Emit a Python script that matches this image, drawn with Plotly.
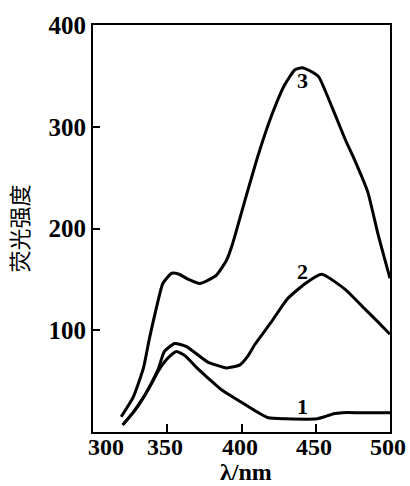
import plotly.graph_objects as go

# Fluorescence emission spectra (wavelength in nm, intensity in a.u.)
wl_1 = [320, 327, 334, 340, 344, 350, 356, 362, 370, 376, 387, 398, 409, 418, 430, 451, 456, 462, 468, 480, 500]
int_1 = [7, 19, 34, 49, 60, 72, 79, 75, 63, 55, 41, 31, 21, 14, 13, 13, 15, 18, 19, 19, 19]

wl_2 = [320, 327, 334, 340, 344, 348, 355, 363, 377, 390, 399, 404, 409, 420, 431, 443, 454, 470, 483, 492, 500]
int_2 = [7, 19, 34, 50, 62, 79, 87, 84, 69, 63, 66, 74, 86, 108, 131, 146, 155, 140, 121, 108, 96]

wl_3 = [319, 327, 334, 338, 343, 347, 353, 358, 363, 372, 383, 390, 394, 402, 411, 420, 429, 436, 441,
        446, 452, 461, 470, 476, 485, 492, 500]
int_3 = [15, 34, 63, 92, 124, 146, 156, 155, 151, 146, 154, 169, 185, 226, 271, 310, 341, 356, 358,
         355, 349, 319, 287, 268, 236, 194, 151]

curve_labels = ["1", "2", "3"]
label_wl = [441, 441, 441]
label_int = [25, 158, 345]

x_ticks = [300, 350, 400, 450, 500]
y_ticks = [100, 200, 300, 400]

SERIF = "Liberation Serif"
fig = go.Figure()
for wl, val in [(wl_1, int_1), (wl_2, int_2), (wl_3, int_3)]:
    fig.add_trace(go.Scatter(x=wl, y=val, mode="lines",
                             line=dict(color="black", width=3, shape="spline", smoothing=0.5),
                             showlegend=False, hoverinfo="skip"))

for t, lx, ly in zip(curve_labels, label_wl, label_int):
    fig.add_annotation(x=lx, y=ly, text=f"<b>{t}</b>", showarrow=False,
                       font=dict(family=SERIF, size=22, color="black"))

# x tick labels as annotations so the first one can clear the y axis
for v in x_ticks:
    fig.add_annotation(x=v, y=0, xref="x", yref="paper", yanchor="middle", yshift=-15,
                       xshift=13 if v == 300 else -2, height=22, borderpad=0,
                       text=f"<b>{v}</b>", showarrow=False,
                       font=dict(family=SERIF, size=24, color="black"))

fig.add_annotation(x=0.5, y=0, xref="paper", yref="paper", yanchor="middle", yshift=-40, xshift=4,
                   height=24, borderpad=0,
                   text="<b>λ/nm</b>", showarrow=False,
                   font=dict(family=SERIF, size=24, color="black"))

fig.update_layout(
    width=410, height=486,
    margin=dict(l=93, r=20, t=15, b=54),
    paper_bgcolor="white", plot_bgcolor="white",
    xaxis=dict(range=[300, 500], tickvals=x_ticks, showticklabels=False,
               ticks="inside", ticklen=8, tickwidth=2, tickcolor="black",
               showline=True, linecolor="black", linewidth=2, mirror=True,
               showgrid=False, zeroline=False),
    yaxis=dict(range=[0, 400], tickvals=y_ticks, ticktext=[f"<b>{v}</b>" for v in y_ticks],
               ticks="inside", ticklen=7, tickwidth=2, tickcolor="black",
               tickfont=dict(family=SERIF, size=25, color="black"),
               showline=True, linecolor="black", linewidth=2, mirror=True,
               showgrid=False, zeroline=False,
               title=dict(text="荧光强度", standoff=14,
                          font=dict(family="Noto Sans CJK SC", size=22, color="black"))),
)

fig.write_html("out.html")
